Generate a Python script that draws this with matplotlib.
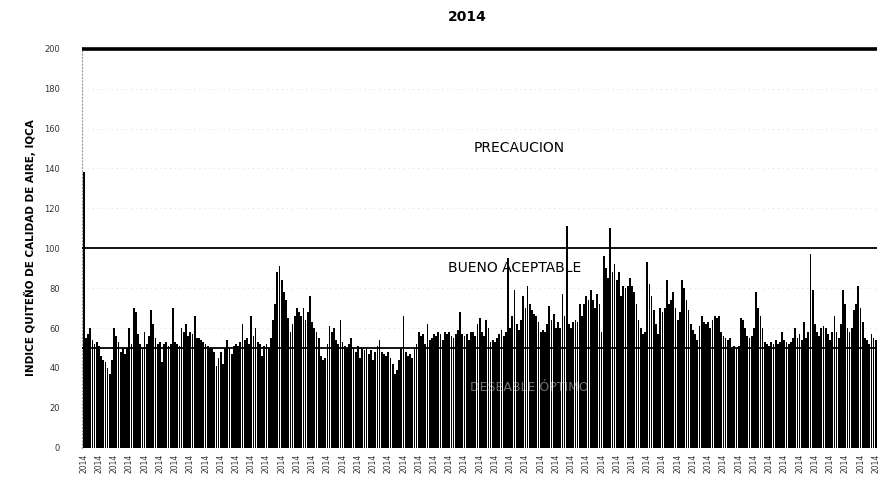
import numpy as np
import matplotlib.pyplot as plt

# ---- datos: IQCA diario 2014 ----
iqca = [
    138, 55, 57, 60, 54, 52, 53, 51, 46, 44,
    43, 40, 37, 44, 60, 56, 53, 48, 50, 47,
    50, 60, 52, 70, 68, 57, 52, 50, 58, 52,
    56, 69, 62, 55, 52, 53, 43, 52, 53, 51,
    52, 70, 53, 52, 51, 60, 58, 62, 56, 58,
    57, 66, 55, 55, 54, 53, 52, 51, 50, 50,
    48, 41, 45, 48, 42, 50, 54, 50, 47, 51,
    52, 51, 53, 62, 54, 55, 52, 66, 56, 60,
    53, 52, 46, 51, 52, 50, 55, 64, 72, 88,
    91, 84, 78, 74, 65, 58, 62, 66, 70, 68,
    66, 70, 64, 68, 76, 63, 60, 58, 55, 46,
    44, 45, 52, 61, 58, 60, 54, 52, 64, 53,
    51, 50, 52, 55, 50, 48, 51, 45, 50, 49,
    50, 47, 49, 44, 48, 51, 54, 48, 47, 46,
    48, 45, 42, 37, 39, 44, 50, 66, 48, 46,
    47, 45, 50, 52, 58, 56, 57, 52, 62, 54,
    55, 57, 56, 58, 57, 54, 58, 57, 58, 56,
    55, 57, 59, 68, 57, 56, 57, 54, 58, 58,
    56, 62, 65, 58, 56, 64, 60, 53, 54, 53,
    55, 57, 59, 56, 58, 95, 60, 66, 79, 62,
    59, 64, 76, 70, 81, 72, 69, 67, 66, 63,
    58, 59, 58, 62, 71, 64, 67, 60, 63, 60,
    77, 66, 111, 62, 60, 63, 64, 63, 72, 66,
    72, 76, 74, 79, 74, 70, 77, 72, 58, 96,
    90, 85, 110, 88, 92, 84, 88, 76, 81, 80,
    81, 85, 81, 78, 72, 64, 60, 57, 58, 93,
    82, 76, 69, 62, 57, 70, 68, 70, 84, 72,
    74, 78, 70, 64, 68, 84, 80, 74, 69, 62,
    59, 57, 54, 61, 66, 63, 62, 63, 60, 64,
    66, 65, 66, 58, 56, 55, 54, 55, 50, 51,
    50, 51, 65, 64, 60, 56, 55, 56, 60, 78,
    70, 66, 60, 53, 52, 51, 53, 52, 54, 52,
    53, 58, 54, 53, 52, 53, 55, 60, 55, 57,
    54, 63, 55, 58, 97, 79, 62, 58, 56, 60,
    61, 60, 57, 54, 58, 66, 58, 55, 62, 79,
    72, 60, 58, 60, 69, 72, 81, 70, 63, 55,
    54, 52, 57, 55, 54,
]
limites = [50, 100, 200]
categorias = ["DESEABLE ÓPTIMO", "BUENO ACEPTABLE", "PRECAUCION"]
etiqueta_anio = "2014"
paso_etiquetas = 7

dias = np.arange(len(iqca))

fig = plt.figure(figsize=(8.81, 4.92), dpi=100)
ax = fig.add_axes([0.093, 0.09, 0.903, 0.815])

# rejilla muy tenue
for yv in range(20, 200, 20):
    ax.axhline(yv, color='#dddddd', lw=0.5, ls=(0, (2, 5)), zorder=0)

ax.bar(dias, iqca, width=0.8, color='black', linewidth=0, zorder=2)

# líneas de límite
for lim, lw in zip(limites, [1.3, 1.3, 2.6]):
    ax.axhline(lim, color='black', lw=lw, zorder=3)

# textos de categorías
ax.text(205, 30, categorias[0], fontsize=9, color='white', alpha=0.45,
        ha='center', va='center', zorder=4)
ax.text(198, 90, categorias[1], fontsize=10, color='black',
        ha='center', va='center', zorder=4)
ax.text(200, 150, categorias[2], fontsize=10, color='black',
        ha='center', va='center', zorder=4)

ax.set_xlim(-0.8, len(iqca) - 0.2)
ax.set_ylim(0, 201)
ax.set_yticks(range(0, 201, 20))
ax.tick_params(axis='y', labelsize=6, length=0, pad=16, labelcolor='#333333')

ticks_x = dias[::paso_etiquetas]
ax.set_xticks(ticks_x)
ax.set_xticklabels([etiqueta_anio] * len(ticks_x), rotation=90, fontsize=5.5,
                   color='#333333')
ax.tick_params(axis='x', length=0, pad=4)

for s in ['top', 'right', 'bottom']:
    ax.spines[s].set_visible(False)
ax.spines['left'].set_color('#999999')
ax.spines['left'].set_linestyle((0, (1, 2)))
ax.spines['left'].set_linewidth(0.8)

ax.set_ylabel("INDICE QUITEÑO DE CALIDAD DE AIRE, IQCA", fontsize=7.5,
              fontweight='bold', labelpad=6)

fig.text(0.53, 0.965, etiqueta_anio, fontsize=10, fontweight='bold',
         ha='center', va='center')

fig.savefig("out.png", dpi=100)
